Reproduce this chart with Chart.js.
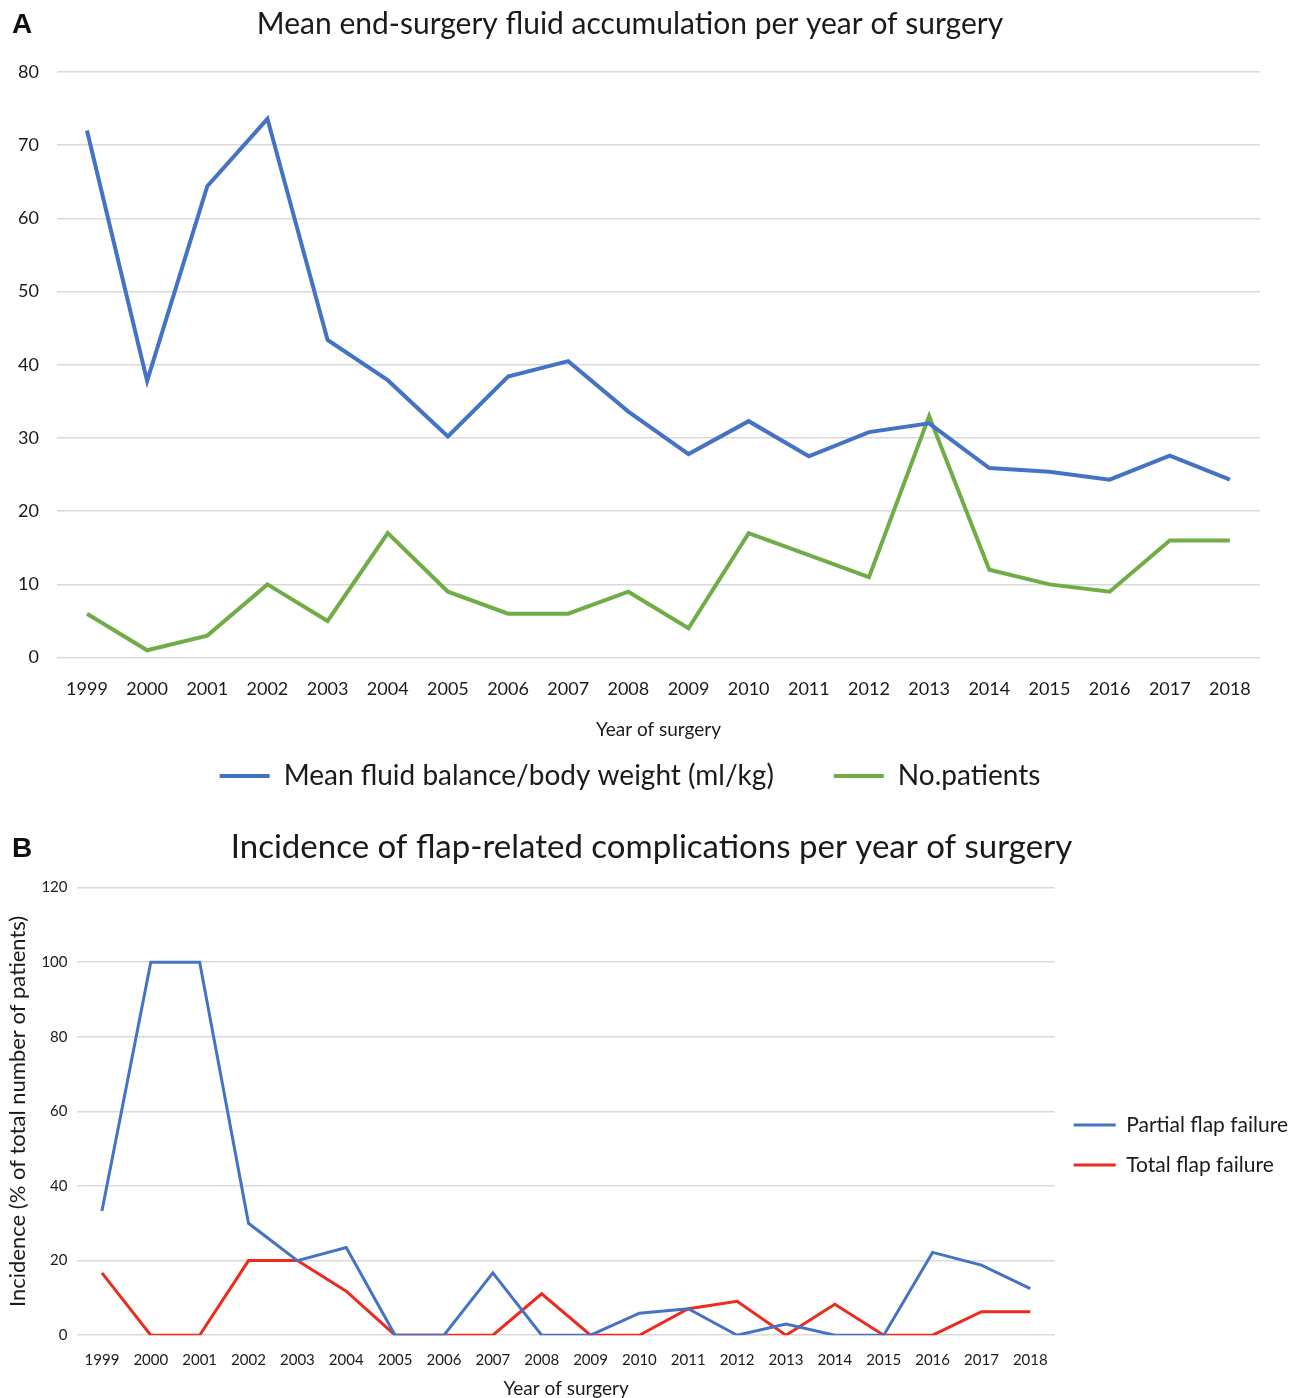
<!DOCTYPE html>
<html>
<head>
<meta charset="utf-8">
<script src="https://cdn.jsdelivr.net/npm/chart.js@4.4.1/dist/chart.umd.min.js"></script>
<style>
  body { margin: 0; background: #fff; font-family: Lato, sans-serif; }
  #wrap { position: relative; width: 1294px; height: 1398px; }
  .panel { position: absolute; left: 0; }
  .tag { position: absolute; left: 12px; font: bold 28px "Liberation Sans", Arial, sans-serif; color: #111; }
</style>
</head>
<body>
<div id="wrap">
  <div class="panel" style="top:0;width:1294px;height:802px"><canvas id="chartA"></canvas></div>
  <div class="panel" style="top:802px;width:1294px;height:596px"><canvas id="chartB"></canvas></div>
  <div class="tag" style="top:8px">A</div>
  <div class="tag" style="top:832px">B</div>
</div>
<script>
const years = ["1999","2000","2001","2002","2003","2004","2005","2006","2007","2008",
               "2009","2010","2011","2012","2013","2014","2015","2016","2017","2018"];

// panel A
const fluidPerKg = [72.0, 37.8, 64.4, 73.6, 43.4, 37.9, 30.2, 38.4, 40.5, 33.6,
                    27.8, 32.3, 27.5, 30.8, 32.0, 25.9, 25.4, 24.3, 27.6, 24.3];
const patients   = [6, 1, 3, 10, 5, 17, 9, 6, 6, 9,
                    4, 17, 14, 11, 33, 12, 10, 9, 16, 16];

// panel B
const partialFailure = [33.3, 100, 100, 30, 20, 23.5, 0, 0, 16.7, 0,
                        0, 5.9, 7.1, 0, 3.0, 0, 0, 22.2, 18.8, 12.5];
const totalFailure   = [16.7, 0, 0, 20, 20, 11.8, 0, 0, 0, 11.1,
                        0, 0, 7.1, 9.1, 0, 8.3, 0, 0, 6.3, 6.3];

const BLUE  = "#4472C4";
const GREEN = "#70AD47";
const RED   = "#EE2A1E";
const GRID  = "#d9d9d9";
const TEXT  = "#1a1a1a";

Chart.defaults.font.family = "Lato, 'Open Sans', sans-serif";
Chart.defaults.color = TEXT;
Chart.defaults.animation = false;

// nudge the legend box vertically after layout (Excel places it differently than Chart.js)
const legendShift = {
  id: "legendShift",
  afterLayout(chart, args, opts) {
    const lg = chart.legend;
    if (lg && opts.dy) { lg.top += opts.dy; lg.bottom += opts.dy; }
  },
};

function lineSet(label, data, color, width) {
  return {
    label, data,
    borderColor: color,
    backgroundColor: color,
    borderWidth: width,
    pointRadius: 0,
    tension: 0,
  };
}

new Chart(document.getElementById("chartA"), {
  type: "line",
  data: {
    labels: years,
    datasets: [
      lineSet("Mean fluid balance/body weight (ml/kg)", fluidPerKg, BLUE, 4),
      lineSet("No.patients", patients, GREEN, 4),
    ],
  },
  plugins: [legendShift],
  options: {
    responsive: true,
    maintainAspectRatio: false,
    // legend padding is wide (item spacing) -> let its empty bottom run past the canvas
    layout: { padding: { left: 0, right: 34, top: 0, bottom: -37 } },
    scales: {
      x: {
        offset: true,
        grid: { display: false },
        border: { display: false },
        ticks: { font: { size: 18 }, padding: 13, maxRotation: 0, autoSkip: false },
        title: { display: true, text: "Year of surgery", font: { size: 19 }, padding: { top: 5, bottom: 0 } },
      },
      y: {
        min: 0, max: 80,
        ticks: { stepSize: 10, font: { size: 18 }, padding: 18 },
        grid: { color: GRID, lineWidth: 1.5, drawTicks: false },
        border: { display: false },
      },
    },
    plugins: {
      title: {
        display: true,
        text: "Mean end-surgery fluid accumulation per year of surgery",
        font: { size: 30, weight: "normal" },
        padding: { top: 6, bottom: 30 },
      },
      legend: {
        position: "bottom",
        labels: {
          usePointStyle: true,
          pointStyle: "line",
          pointStyleWidth: 50,
          font: { size: 28 },
          padding: 60,
        },
      },
      legendShift: { dy: -39 },
      tooltip: { enabled: false },
    },
  },
});

new Chart(document.getElementById("chartB"), {
  type: "line",
  data: {
    labels: years,
    datasets: [
      lineSet("Partial flap failure", partialFailure, BLUE, 3),
      lineSet("Total flap failure", totalFailure, RED, 3),
    ],
  },
  plugins: [legendShift],
  options: {
    responsive: true,
    maintainAspectRatio: false,
    layout: { padding: { left: 5, right: -4, top: 0, bottom: 0 } },
    scales: {
      x: {
        offset: true,
        grid: { display: false },
        border: { display: false },
        ticks: { font: { size: 15 }, padding: 8, maxRotation: 0, autoSkip: false },
        title: { display: true, text: "Year of surgery", font: { size: 19 }, padding: { top: 0, bottom: -2 } },
      },
      y: {
        min: 0, max: 120,
        ticks: { stepSize: 20, font: { size: 15 }, padding: 10 },
        grid: { color: GRID, lineWidth: 1.5, drawTicks: false },
        border: { display: false },
        title: { display: true, text: "Incidence (% of total number of patients)", font: { size: 22 }, padding: { top: 0, bottom: 0 } },
      },
    },
    plugins: {
      title: {
        display: true,
        text: "Incidence of flap-related complications per year of surgery",
        font: { size: 33, weight: "normal" },
        padding: { top: 26, bottom: 20 },
      },
      legend: {
        position: "right",
        labels: {
          usePointStyle: true,
          pointStyle: "line",
          pointStyleWidth: 42,
          font: { size: 21 },
          padding: 19,
        },
      },
      legendShift: { dy: 45 },
      tooltip: { enabled: false },
    },
  },
});
</script>
</body>
</html>
